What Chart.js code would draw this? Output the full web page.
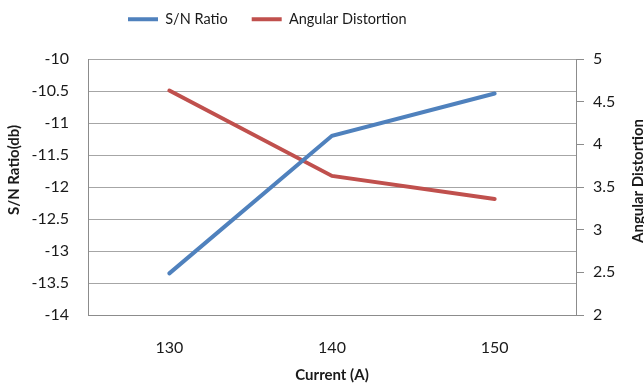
<!DOCTYPE html>
<html>
<head>
<meta charset="utf-8">
<script src="https://cdn.jsdelivr.net/npm/chart.js@4/dist/chart.umd.min.js"></script>
<style>
  html, body { margin: 0; padding: 0; background: #fff; }
  #wrap { width: 644px; height: 387px; position: relative; }
</style>
</head>
<body>
<div id="wrap"><canvas id="c" width="644" height="387"></canvas></div>
<script>
const categories = ['130', '140', '150'];
const snRatio = [-13.35, -11.2, -10.54];
const angularDistortion = [4.63, 3.63, 3.36];
const leftTicks = [-14, -13.5, -13, -12.5, -12, -11.5, -11, -10.5, -10];
const rightTicks = [2, 2.5, 3, 3.5, 4, 4.5, 5];

const FONT = 'Lato, "Open Sans", sans-serif';
const TEXT = '#1a1a1a';
const GRID = '#a6a6a6';
const AXIS = '#8c8c8c';

const layoutPlugin = {
  id: 'layoutFix',
  beforeInit(chart) {
    const lg = chart.legend;
    const fit = lg.fit;
    lg.fit = function () { fit.apply(this, arguments); this.height = 59; };
    const draw = lg.draw;
    lg.draw = function () {
      const c = this.ctx; c.save(); c.translate(104, -12);
      draw.apply(this, arguments); c.restore();
    };
  },
  afterDraw(chart) {
    const ctx = chart.ctx;
    const titles = [['S/N Ratio(db)', 14, 170], ['Angular Distortion', 638, 181]];
    titles.forEach(([t, x, y]) => {
      ctx.save();
      ctx.fillStyle = TEXT;
      ctx.font = 'bold 15px ' + FONT;
      ctx.textAlign = 'center';
      ctx.textBaseline = 'middle';
      ctx.translate(x, y); ctx.rotate(-Math.PI / 2);
      ctx.fillText(t, 0, 0);
      ctx.restore();
    });
  }
};

const fmt = v => String(v);

new Chart(document.getElementById('c'), {
  type: 'line',
  data: {
    labels: categories,
    datasets: [
      { label: 'S/N Ratio', data: snRatio, yAxisID: 'y',
        borderColor: '#4F81BD', backgroundColor: '#4F81BD', borderWidth: 4,
        pointRadius: 0, tension: 0, borderCapStyle: 'round' },
      { label: 'Angular Distortion', data: angularDistortion, yAxisID: 'y1',
        borderColor: '#C0504D', backgroundColor: '#C0504D', borderWidth: 4,
        pointRadius: 0, tension: 0, borderCapStyle: 'round' }
    ]
  },
  options: {
    responsive: false,
    animation: false,
    layout: { padding: 0 },
    plugins: {
      legend: {
        position: 'top', align: 'start',
        labels: { font: { family: FONT, size: 14.5 }, color: TEXT, padding: 24,
          usePointStyle: true, pointStyle: 'line', pointStyleWidth: 30 }
      },
      tooltip: { enabled: false }
    },
    scales: {
      x: {
        type: 'category', offset: true,
        grid: { display: false, drawTicks: false },
        border: { display: true, color: AXIS, width: 1 },
        ticks: { font: { family: FONT, size: 16 }, color: TEXT, padding: 23 },
        title: { display: true, text: 'Current (A)', font: { family: FONT, size: 15, weight: 'bold' },
          color: TEXT, padding: { top: 0, bottom: 3 } },
        afterFit(s) { s.height = 72; }
      },
      y: {
        position: 'left', min: -14, max: -10,
        grid: { color: GRID, lineWidth: 1, drawTicks: false },
        border: { display: true, color: AXIS, width: 1 },
        afterBuildTicks(s) { s.ticks = leftTicks.map(v => ({ value: v })); },
        ticks: { font: { family: FONT, size: 16 }, color: TEXT, padding: 19, callback: fmt },
        afterFit(s) { s.width = 88; }
      },
      y1: {
        position: 'right', min: 2, max: 5,
        grid: { drawOnChartArea: false, drawTicks: true, tickLength: 8, color: AXIS },
        border: { display: true, color: AXIS, width: 1 },
        afterBuildTicks(s) { s.ticks = rightTicks.map(v => ({ value: v })); },
        ticks: { font: { family: FONT, size: 16 }, color: TEXT, padding: 9, callback: fmt },
        afterFit(s) { s.width = 68; }
      }
    }
  },
  plugins: [layoutPlugin]
});
</script>
</body>
</html>
